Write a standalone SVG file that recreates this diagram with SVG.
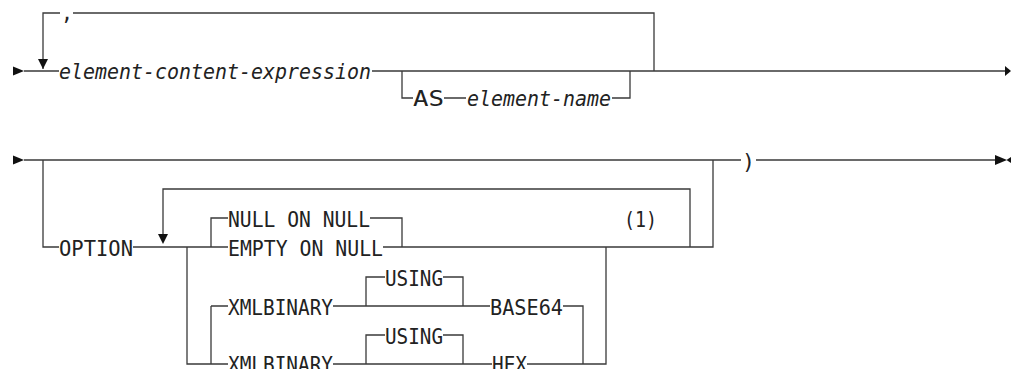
<svg xmlns="http://www.w3.org/2000/svg" width="1011" height="369" viewBox="0 0 1011 369">
<style>
.ln{fill:none;stroke:#3a3a3a;stroke-width:1.3}
.ar{fill:#111;stroke:none}
text{font-family:"DejaVu Sans Mono","Liberation Mono",monospace;font-size:21px;fill:#222}
.it{font-style:italic}
</style>
<rect width="1011" height="369" fill="#fff"/>
<g id="connectors">
<!-- row 1 -->
<path class="ln" d="M24 71H59M372 71H1005"/>
<path class="ln" d="M43 69V13H60M73 13H654V71"/>
<path class="ln" d="M402 71V98H413M444 98H466M612 98H630V71"/>
<!-- row 2 -->
<path class="ln" d="M24 160H741M756 160H996"/>
<path class="ln" d="M43 160V247H59M133 247H228M383 247H713V160"/>
<path class="ln" d="M163 236V189H690V247"/>
<path class="ln" d="M228 218H211V247M370 218H402V247"/>
<path class="ln" d="M187 247V364H228M211 306V364M211 306H228"/>
<path class="ln" d="M333 306H490M563 306H583V364"/>
<path class="ln" d="M366 306V277H385M443 277H463V306"/>
<path class="ln" d="M333 364H492M527 364H606V247"/>
<path class="ln" d="M366 364V335H385M443 335H463V364"/>
<!-- arrows -->
<polygon class="ar" points="13,66.5 24,71 13,75.5"/>
<polygon class="ar" points="1005,66 1011,71 1005,76"/>
<polygon class="ar" points="38,59 48,59 43,69"/>
<polygon class="ar" points="13,155.5 24,160 13,164.5"/>
<polygon class="ar" points="158,234 168,234 163,244"/>
<polygon class="ar" points="995,155 1007,160 995,165"/>
<polygon class="ar" points="1011,157 1011,163 1006.5,160"/>
</g>
<g id="n-element-content-expression"><text class="it" x="59" y="78.5" textLength="312" lengthAdjust="spacingAndGlyphs">element-content-expression</text></g>
<g id="n-comma"><text x="61" y="20" textLength="12" lengthAdjust="spacingAndGlyphs">,</text></g>
<g id="n-as"><text x="413" y="105.5" textLength="31" lengthAdjust="spacingAndGlyphs">AS</text></g>
<g id="n-element-name"><text class="it" x="467" y="105.5" textLength="144" lengthAdjust="spacingAndGlyphs">element-name</text></g>
<g id="n-option"><text x="59" y="255.5" textLength="74" lengthAdjust="spacingAndGlyphs">OPTION</text></g>
<g id="n-null-on-null"><text x="228" y="226.5" textLength="142" lengthAdjust="spacingAndGlyphs">NULL ON NULL</text></g>
<g id="n-empty-on-null"><text x="228" y="255.5" textLength="155" lengthAdjust="spacingAndGlyphs">EMPTY ON NULL</text></g>
<g id="n-note1"><text x="624" y="226.5" textLength="33" lengthAdjust="spacingAndGlyphs">(1)</text></g>
<g id="n-xmlbinary1"><text x="228" y="314.5" textLength="105" lengthAdjust="spacingAndGlyphs">XMLBINARY</text></g>
<g id="n-using1"><text x="385" y="285.5" textLength="58" lengthAdjust="spacingAndGlyphs">USING</text></g>
<g id="n-base64"><text x="490" y="314.5" textLength="73" lengthAdjust="spacingAndGlyphs">BASE64</text></g>
<g id="n-xmlbinary2"><text x="228" y="372" textLength="105" lengthAdjust="spacingAndGlyphs">XMLBINARY</text></g>
<g id="n-using2"><text x="385" y="343.5" textLength="58" lengthAdjust="spacingAndGlyphs">USING</text></g>
<g id="n-hex"><text x="492" y="372" textLength="35" lengthAdjust="spacingAndGlyphs">HEX</text></g>
<g id="n-rparen"><text x="742" y="168.5" textLength="13" lengthAdjust="spacingAndGlyphs">)</text></g>
</svg>
